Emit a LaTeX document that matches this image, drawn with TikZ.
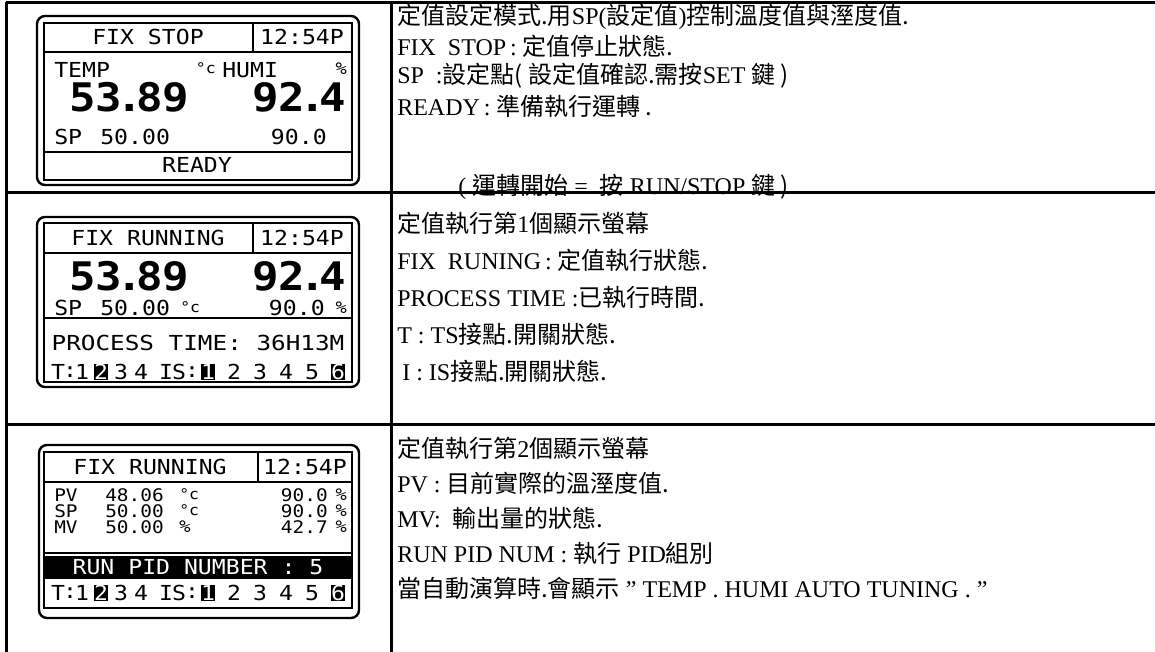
\documentclass[tikz,border=0pt]{standalone}
\usepackage{fontspec}
\setmainfont{Liberation Serif}
\newfontfamily\cjk{Noto Sans CJK TC}
\newfontfamily\lcdfont[FakeStretch=1.12]{DejaVu Sans Mono}
\newcommand\zh[1]{{\cjk #1}}
\newcommand\lcdN{\lcdfont\fontsize{15.5pt}{16pt}\selectfont}
\newcommand\lcdB{\lcdfont\bfseries\fontsize{29.5pt}{30pt}\selectfont}
\newcommand\lcdS{\lcdfont\fontsize{13pt}{13pt}\selectfont}
\newcommand\lcdU{\lcdfont\fontsize{11pt}{11pt}\selectfont}
\newcommand\lcdP{\lcdfont\fontsize{12.5pt}{12.5pt}\selectfont}
\newcommand\rtxt{\fontsize{18pt}{18pt}\selectfont}
\newcommand\bdot{\kern-0.16em.\kern-0.16em}
\tikzset{
  gridline/.style={line width=2.25pt},
  lcdouter/.style={line width=1.8pt, rounded corners=6pt},
  lcdinner/.style={line width=0.8pt},
  lt/.style={inner sep=0pt, font=\lcdN},
  wt/.style={inner sep=0pt, font=\lcdN, xscale=1.05},
  bt/.style={inner sep=0pt, font=\lcdB},
  st/.style={inner sep=0pt, font=\lcdS},
  ut/.style={inner sep=0pt, font=\lcdU},
  pt/.style={inner sep=0pt, font=\lcdP},
  inv/.style={inner sep=0pt, fill=black, text=white, font=\lcdN, minimum width=10.5pt, minimum height=12pt},
  rt/.style={anchor=west, inner sep=0pt, font=\rtxt},
}
\begin{document}
\begin{tikzpicture}[x=0.75pt,y=-0.75pt]
\useasboundingbox (0,0) rectangle (1155,652);
\fill[white] (0,0) rectangle (1155,652);

% ---------- LCD 1 ----------
\draw[lcdouter] (37,16) rectangle (359,185);
\draw[lcdinner] (44,23) rectangle (352,180);
\draw[lcdinner] (44,52) -- (352,52) (253,23) -- (253,52) (44,152) -- (352,152);
\node[lt] (a1) at (148,37) {FIX STOP};
\node[lt] (a2) at (302,37) {12:54P};
\node[lt, anchor=west] (a3) at (54,70) {TEMP};
\node[ut, anchor=east] (a4) at (216,68) {°c};
\node[lt, anchor=west] (a5) at (222,70) {HUMI};
\node[pt, anchor=east] (a6) at (347,69) {\%};
\node[bt, anchor=west] (a7) at (69,97) {53\bdot 89};
\node[bt, anchor=east] (a8) at (346,97) {92\bdot 4};
\node[lt, anchor=west] (a9) at (54,137) {SP};
\node[lt, anchor=west] (a10) at (100,137) {50.00};
\node[lt, anchor=east] (a11) at (327,137) {90.0};
\node[lt] (a12) at (197,165) {READY};

% ---------- LCD 2 ----------
\draw[lcdouter] (37,217) rectangle (359,387);
\draw[lcdinner] (44,223) rectangle (352,382);
\draw[lcdinner] (44,253) -- (352,253) (253,223) -- (253,253) (44,318) -- (352,318);
\node[lt] (b1) at (148,238) {FIX RUNNING};
\node[lt] (b2) at (302,238) {12:54P};
\node[bt, anchor=west] (b3) at (69,276) {53\bdot 89};
\node[bt, anchor=east] (b4) at (346,276) {92\bdot 4};
\node[lt, anchor=west] (b5) at (54,308) {SP};
\node[lt, anchor=west] (b6) at (100,308) {50.00};
\node[ut, anchor=west] (b7) at (180,307) {°c};
\node[lt, anchor=east] (b8) at (325,308) {90.0};
\node[pt, anchor=east] (b9) at (347,308) {\%};
\node[wt] (b10) at (198,343) {PROCESS TIME: 36H13M};
\node[lt] (b11) at (58,372) {T};
\node[lt] (b12) at (70,372) {:};
\node[lt] (b13) at (82,372) {1};
\node[inv] (b14) at (101,372) {2};
\node[lt] (b15) at (121,372) {3};
\node[lt] (b16) at (141,372) {4};
\node[lt] (b17) at (166,372) {I};
\node[lt] (b18) at (179,372) {S};
\node[lt] (b19) at (192,372) {:};
\node[inv] (b20) at (208,372) {1};
\node[lt] (b21) at (234,372) {2};
\node[lt] (b22) at (260,372) {3};
\node[lt] (b23) at (286,372) {4};
\node[lt] (b24) at (312,372) {5};
\node[inv] (b25) at (338,372) {6};

% ---------- LCD 3 ----------
\draw[lcdouter] (39,445) rectangle (359,618);
\draw[lcdinner] (44,452) rectangle (352,608);
\draw[lcdinner] (44,482) -- (352,482) (258,452) -- (258,482) (44,553) -- (352,553);
\fill[black] (44,556) rectangle (352,579);
\node[lt] (c1) at (150,467) {FIX RUNNING};
\node[lt] (c2) at (305,467) {12:54P};
\node[st, anchor=west] (c3) at (54,495) {PV};
\node[st, anchor=west] (c4) at (105,495) {48.06};
\node[ut, anchor=west] (c5) at (179,494) {°c};
\node[st, anchor=east] (c6) at (328,495) {90.0};
\node[pt, anchor=east] (c7) at (347,495) {\%};
\node[st, anchor=west] (c8) at (54,511) {SP};
\node[st, anchor=west] (c9) at (105,511) {50.00};
\node[ut, anchor=west] (c10) at (179,510) {°c};
\node[st, anchor=east] (c11) at (328,511) {90.0};
\node[pt, anchor=east] (c12) at (347,511) {\%};
\node[st, anchor=west] (c13) at (54,527) {MV};
\node[st, anchor=west] (c14) at (105,527) {50.00};
\node[pt, anchor=west] (c15) at (179,527) {\%};
\node[st, anchor=east] (c16) at (328,527) {42.7};
\node[pt, anchor=east] (c17) at (347,527) {\%};
\node[lt, text=white] (c18) at (198,567) {RUN PID NUMBER : 5};
\node[lt] (c19) at (58,593) {T};
\node[lt] (c20) at (70,593) {:};
\node[lt] (c21) at (82,593) {1};
\node[inv] (c22) at (101,593) {2};
\node[lt] (c23) at (121,593) {3};
\node[lt] (c24) at (141,593) {4};
\node[lt] (c25) at (166,593) {I};
\node[lt] (c26) at (179,593) {S};
\node[lt] (c27) at (192,593) {:};
\node[inv] (c28) at (208,593) {1};
\node[lt] (c29) at (234,593) {2};
\node[lt] (c30) at (260,593) {3};
\node[lt] (c31) at (286,593) {4};
\node[lt] (c32) at (312,593) {5};
\node[inv] (c33) at (338,593) {6};

% ---------- right texts ----------
\node[rt] (r11) at (397,17) {\zh{定值設定模式.用}SP(\zh{設定值})\zh{控制溫度值與溼度值.}};
\node[rt] (r12) at (397,46) {FIX\ \ STOP\,:\ \zh{定值停止狀態.}};
\node[rt] (r13) at (397,76) {SP\ \ :\zh{設定點(\ 設定值確認.需按}SET \zh{鍵\ )}};
\node[rt] (r14) at (397,106) {READY\,:\ \zh{準備執行運轉\ .}};
\node[rt] (r15) at (458,187) {(\ \zh{運轉開始}\ =\ \ \zh{按}\ RUN/STOP \zh{鍵\ )}};

\node[rt] (r21) at (397,223) {\zh{定值執行第}1\zh{個顯示螢幕}};
\node[rt] (r22) at (397,260) {FIX\ \ RUNING\,:\ \zh{定值執行狀態.}};
\node[rt] (r23) at (397,297) {PROCESS TIME :\zh{已執行時間.}};
\node[rt] (r24) at (397,334) {T : TS\zh{接點.開關狀態.}};
\node[rt] (r25) at (402,371) {I : IS\zh{接點.開關狀態.}};

\node[rt] (r31) at (397,448) {\zh{定值執行第}2\zh{個顯示螢幕}};
\node[rt] (r32) at (397,483) {PV : \zh{目前實際的溫溼度值.}};
\node[rt] (r33) at (397,518) {MV:\ \ \zh{輸出量的狀態.}};
\node[rt] (r34) at (397,553) {RUN PID NUM : \zh{執行} PID\zh{組別}};
\node[rt] (r35) at (397,588) {\zh{當自動演算時.會顯示} " TEMP . HUMI AUTO TUNING . "};

% ---------- table lines ----------
\draw[gridline] (6,3) -- (1155,3);
\draw[gridline] (6,193) -- (1155,193);
\draw[gridline] (6,424) -- (1155,424);
\draw[gridline] (6,2) -- (6,652);
\draw[gridline] (391,2) -- (391,652);
\end{tikzpicture}
\end{document}
